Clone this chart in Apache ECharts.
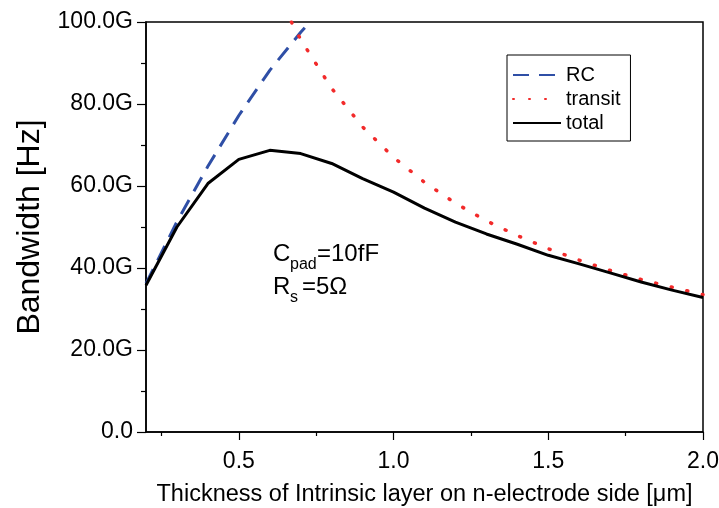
<!DOCTYPE html>
<html>
<head>
<meta charset="utf-8">
<script src="https://cdn.jsdelivr.net/npm/echarts@6/dist/echarts.min.js"></script>
<style>
  html, body { margin: 0; padding: 0; background: #fff; }
  #chart { width: 719px; height: 508px; }
</style>
</head>
<body>
<div id="chart"></div>
<script>
// thickness [um] and bandwidth values [GHz]
const thickness = [0.2, 0.3, 0.4, 0.5, 0.6, 0.7, 0.8, 0.9, 1.0, 1.1, 1.2, 1.3, 1.4, 1.5, 1.6, 1.7, 1.8, 1.9, 2.0];
const totalBw = [35.8, 50.0, 60.6, 66.5, 68.7, 67.9, 65.5, 61.8, 58.5, 54.6, 51.2, 48.3, 45.8, 43.1, 41.0, 38.8, 36.6, 34.6, 32.8];

const rcThickness = [0.2, 0.3, 0.4, 0.5, 0.6, 0.7, 0.73];
const rcBw = [36.2, 51.3, 64.8, 77.2, 88.2, 97.5, 100.0];

const transitThickness = [0.67, 0.7, 0.8, 0.9, 1.0, 1.1, 1.2, 1.3, 1.4, 1.5, 1.6, 1.7, 1.8, 1.9, 2.0];
const transitBw = [100.0, 95.7, 83.8, 74.4, 67.0, 60.9, 55.8, 51.5, 47.9, 44.7, 41.9, 39.4, 37.2, 35.3, 33.5];

const xMajorTicks = [0.5, 1.0, 1.5, 2.0];
const xMinorTicks = [0.25, 0.75, 1.25, 1.75];

const FONT = "Liberation Sans, Arial, sans-serif";

function zip(xs, ys) {
    return xs.map((x, i) => [x, ys[i]]);
}

// small text piece for the annotation (main text or subscript)
function note(text, x, y, size) {
    return {
        type: "text", x: x, y: y,
        style: { text: text, fill: "#000", font: size + "px " + FONT, verticalAlign: "middle", align: "left" }
    };
}

const chart = echarts.init(document.getElementById("chart"));

const option = {
    backgroundColor: "#fff",
    animation: false,
    grid: {
        left: 146, right: 16, top: 22, bottom: 76,
        outerBoundsMode: "none", containLabel: false,
        show: true, borderColor: "#000", borderWidth: 1.5, backgroundColor: "transparent"
    },
    legend: {
        orient: "vertical",
        left: 507, top: 55,
        borderColor: "#000", borderWidth: 1,
        padding: [10, 10, 8, 5],
        itemWidth: 48, itemHeight: 20, itemGap: 4,
        itemStyle: { opacity: 0 },
        textStyle: { fontFamily: FONT, fontSize: 20, color: "#000" },
        data: ["RC", "transit", "total"]
    },
    xAxis: [
        {
            type: "value", min: 0.2, max: 2.0,
            name: "Thickness of Intrinsic layer on n-electrode side [\u03bcm]",
            nameLocation: "middle", nameGap: 51,
            nameTextStyle: { fontFamily: FONT, fontSize: 23.5, color: "#000" },
            axisLine: { show: true, onZero: false, lineStyle: { color: "#000", width: 1.5 } },
            axisTick: { show: true, inside: false, length: 8, customValues: xMajorTicks, lineStyle: { color: "#000", width: 1.2 } },
            axisLabel: { customValues: xMajorTicks, margin: 18, fontFamily: FONT, fontSize: 23, color: "#000",
                hideOverlap: false, formatter: v => v.toFixed(1) },
            splitLine: { show: false }
        },
        {
            type: "value", min: 0.2, max: 2.0, position: "bottom",
            axisLine: { show: false },
            axisTick: { show: true, inside: false, length: 4, customValues: xMinorTicks, lineStyle: { color: "#000", width: 1.2 } },
            axisLabel: { show: false },
            splitLine: { show: false }
        }
    ],
    yAxis: {
        type: "value", min: 0, max: 100, interval: 20,
        name: "Bandwidth [Hz]",
        nameLocation: "middle", nameGap: 98, nameRotate: 90,
        nameTextStyle: { fontFamily: FONT, fontSize: 32, color: "#000" },
        axisLine: { show: true, lineStyle: { color: "#000", width: 1.5 } },
        axisTick: { show: true, inside: false, length: 9, lineStyle: { color: "#000", width: 1.2 } },
        minorTick: { show: true, splitNumber: 2, length: 5, lineStyle: { color: "#000", width: 1.2 } },
        axisLabel: { margin: 13, fontFamily: FONT, fontSize: 23, color: "#000",
            formatter: v => v === 0 ? "0.0" : v.toFixed(1) + "G" },
        splitLine: { show: false }
    },
    series: [
        {
            name: "RC", type: "line", data: zip(rcThickness, rcBw),
            showSymbol: false, symbol: "none", clip: true,
            lineStyle: { color: "#2f4fa6", width: 3, type: [16, 10] },
            itemStyle: { color: "#2f4fa6" }
        },
        {
            name: "transit", type: "line", data: zip(transitThickness, transitBw),
            showSymbol: false, symbol: "none", clip: true,
            lineStyle: { color: "#f22a2a", width: 3.5, type: [1, 15], cap: "round" },
            itemStyle: { color: "#f22a2a" }
        },
        {
            name: "total", type: "line", data: zip(thickness, totalBw),
            showSymbol: false, symbol: "none", clip: true,
            lineStyle: { color: "#000", width: 3 },
            itemStyle: { color: "#000" }
        }
    ],
    graphic: [
        note("C", 273, 254, 24),
        note("pad", 290, 265, 16),
        note("=10fF", 317, 254, 24),
        note("R", 273, 287, 24),
        note("s", 290, 298, 16),
        note("=5\u03a9", 302, 287, 24)
    ]
};

chart.setOption(option);
</script>
</body>
</html>
